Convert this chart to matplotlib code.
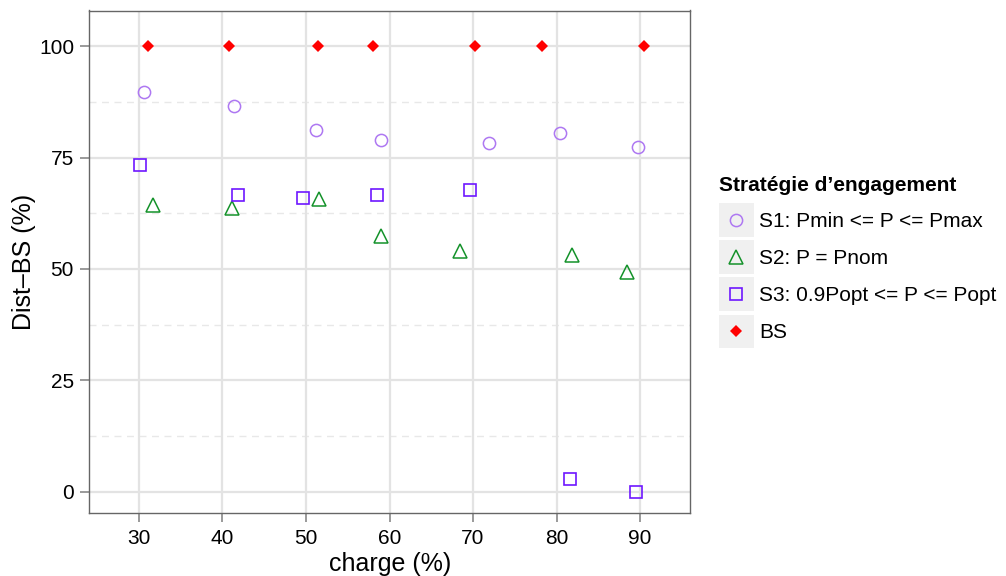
import matplotlib
matplotlib.use("Agg")
import matplotlib.pyplot as plt
from matplotlib.legend_handler import HandlerLine2D
from matplotlib.patches import Rectangle

plt.rcParams['font.family'] = ['Liberation Sans', 'DejaVu Sans']

# Data
s1_x = [30.55, 41.36, 51.21, 59.04, 71.87, 80.39, 89.73]
s1_y = [89.7, 86.6, 81.1, 78.9, 78.3, 80.4, 77.3]
s2_x = [31.7, 41.13, 51.53, 58.95, 68.43, 81.8, 88.45]
s2_y = [64.3, 63.7, 65.6, 57.4, 54.1, 53.2, 49.2]
s3_x = [30.09, 41.82, 49.7, 58.54, 69.62, 81.67, 89.46]
s3_y = [73.4, 66.7, 66.0, 66.5, 67.7, 2.8, 0.0]
bs_x = [31.05, 40.72, 51.48, 58.03, 70.22, 78.28, 90.46]
bs_y = [100, 100, 100, 100, 100, 100, 100]

labels = ["S1: Pmin <= P <= Pmax", "S2: P = Pnom", "S3: 0.9Popt <= P <= Popt", "BS"]
xticks = [30, 40, 50, 60, 70, 80, 90]
yticks = [0, 25, 50, 75, 100]
yminor = [12.5, 37.5, 62.5, 87.5]

fig = plt.figure(figsize=(10.06, 5.76), dpi=100)
ax = fig.add_axes([89.3 / 1006, 1 - 513.3 / 576, 601 / 1006, (513.3 - 10.5) / 576])

c1, c2, c3, c4 = "#AE78F2", "#14922A", "#6E17FF", "#FF0000"
ax.plot(s1_x, s1_y, 'o', ms=8.8, mfc='none', mec=c1, mew=1.1, label=labels[0], zorder=3)
ax.plot(s2_x, s2_y, '^', ms=10.5, mfc='none', mec=c2, mew=1.1, label=labels[1], zorder=3)
ax.plot(s3_x, s3_y, 's', ms=8.6, mfc='none', mec=c3, mew=1.2, label=labels[2], zorder=3)
ax.plot(bs_x, bs_y, 'D', ms=6, mfc=c4, mec=c4, mew=0, label=labels[3], zorder=3)

ax.set_xlim(24.05, 96.02)
ax.set_ylim(-4.85, 108.0)
ax.set_xticks(xticks)
ax.set_yticks(yticks)
ax.grid(True, which='major', color='#E3E3E3', lw=1.6, zorder=0)
for v in yminor:
    ax.axhline(v, color='#E8E8E8', lw=1.0, ls=(0, (5, 4)), zorder=0)
ax.tick_params(which='major', direction='out', length=6.5, width=1.1, color='#7F7F7F',
               labelsize=15, labelcolor='black', pad=4.5)
for s in ax.spines.values():
    s.set_color('#666666')
    s.set_linewidth(1.0)
ax.set_axisbelow(True)
ax.set_xlabel("charge (%)", fontsize=18, labelpad=3)
ax.set_ylabel("Dist\u2013BS (%)", fontsize=18, labelpad=2)


class KeyHandler(HandlerLine2D):
    def create_artists(self, legend, orig_handle, xdescent, ydescent, width, height, fontsize, trans):
        rect = Rectangle((-xdescent, -ydescent), width, height, facecolor='#F0F0F0',
                         edgecolor='none', transform=trans)
        arts = list(super().create_artists(legend, orig_handle, xdescent, ydescent, width, height,
                                           fontsize, trans))
        for a in arts:
            yd = a.get_ydata()
            a.set_ydata([height / 2 - ydescent] * len(yd))
            xd = a.get_xdata()
            if len(xd) == 1:
                a.set_xdata([width / 2 - xdescent])
        return [rect] + arts


handles, lbls = ax.get_legend_handles_labels()
hmap = {h: KeyHandler(numpoints=1) for h in handles}
leg = fig.legend(handles, lbls, handler_map=hmap, loc='upper left',
                 bbox_to_anchor=(719 / 1006, 1 - 176 / 576), frameon=False, fontsize=15,
                 handlelength=1.67, handleheight=2.115, labelspacing=0.16, handletextpad=0.25,
                 borderpad=0, borderaxespad=0,
                 title="Stratégie d\u2019engagement", title_fontproperties={'weight': 'bold', 'size': 15},
                 alignment='left')
leg._legend_box.sep = 6

fig.savefig("out.png", dpi=100)
